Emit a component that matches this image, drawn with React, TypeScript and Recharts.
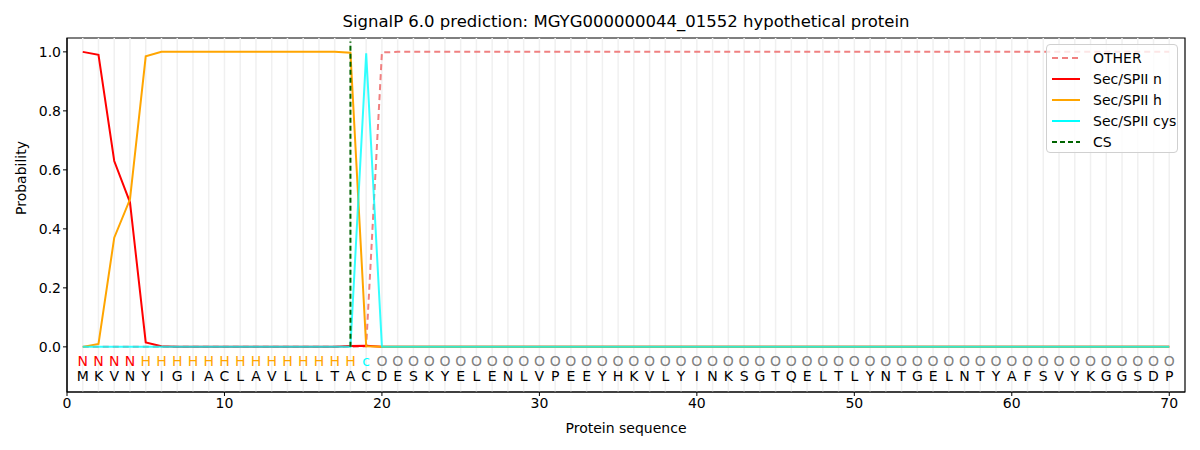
import React from "react";
import {
  ComposedChart,
  Line,
  Scatter,
  XAxis,
  YAxis,
  ReferenceLine,
  ReferenceArea,
} from "recharts";

const sequence = "MKVNYIGIACLAVLLLTACDESKYELENLVPEEYHKVLYINKSGTQELTLYNTGELNTYAFSVYKGGSDP".split("");
const predicted = "NNNNHHHHHHHHHHHHHHcOOOOOOOOOOOOOOOOOOOOOOOOOOOOOOOOOOOOOOOOOOOOOOOOOOO".split("");

const otherProb = [
  0, 0, 0, 0, 0, 0, 0, 0, 0, 0,
  0, 0, 0, 0, 0, 0, 0, 0, 0.002, 0.998,
  1, 1, 1, 1, 1, 1, 1, 1, 1, 1,
  1, 1, 1, 1, 1, 1, 1, 1, 1, 1,
  1, 1, 1, 1, 1, 1, 1, 1, 1, 1,
  1, 1, 1, 1, 1, 1, 1, 1, 1, 1,
  1, 1, 1, 1, 1, 1, 1, 1, 1, 1,
];
const nProb = [
  1.0, 0.99, 0.63, 0.49, 0.015, 0.002, 0, 0, 0, 0,
  0, 0, 0, 0, 0, 0, 0, 0.003, 0.004, 0,
  0, 0, 0, 0, 0, 0, 0, 0, 0, 0,
  0, 0, 0, 0, 0, 0, 0, 0, 0, 0,
  0, 0, 0, 0, 0, 0, 0, 0, 0, 0,
  0, 0, 0, 0, 0, 0, 0, 0, 0, 0,
  0, 0, 0, 0, 0, 0, 0, 0, 0, 0,
];
const hProb = [
  0, 0.01, 0.37, 0.5, 0.985, 1, 1, 1, 1, 1,
  1, 1, 1, 1, 1, 1, 1, 0.997, 0.002, 0,
  0, 0, 0, 0, 0, 0, 0, 0, 0, 0,
  0, 0, 0, 0, 0, 0, 0, 0, 0, 0,
  0, 0, 0, 0, 0, 0, 0, 0, 0, 0,
  0, 0, 0, 0, 0, 0, 0, 0, 0, 0,
  0, 0, 0, 0, 0, 0, 0, 0, 0, 0,
];
const cysProb = [
  0, 0, 0, 0, 0, 0, 0, 0, 0, 0,
  0, 0, 0, 0, 0, 0, 0, 0, 0.995, 0,
  0, 0, 0, 0, 0, 0, 0, 0, 0, 0,
  0, 0, 0, 0, 0, 0, 0, 0, 0, 0,
  0, 0, 0, 0, 0, 0, 0, 0, 0, 0,
  0, 0, 0, 0, 0, 0, 0, 0, 0, 0,
  0, 0, 0, 0, 0, 0, 0, 0, 0, 0,
];
const csPosition = 18;
const xTicks = [0, 10, 20, 30, 40, 50, 60, 70];
const yTicks = [0, 0.2, 0.4, 0.6, 0.8, 1.0];

const labelColors: Record<string, string> = {
  N: "#ff0000",
  H: "#ffa500",
  c: "#00ffff",
  O: "#808080",
};

const series = [
  { key: "other", name: "OTHER", color: "#f08080", dash: "6 4" },
  { key: "n", name: "Sec/SPII n", color: "#ff0000", dash: undefined },
  { key: "h", name: "Sec/SPII h", color: "#ffa500", dash: undefined },
  { key: "cys", name: "Sec/SPII cys", color: "#00ffff", dash: undefined },
  { key: "cs", name: "CS", color: "#006400", dash: "5 3" },
];

const rows = sequence.map((_, i) => ({
  x: i + 1,
  other: otherProb[i],
  n: nProb[i],
  h: hProb[i],
  cys: cysProb[i],
}));

const predRow = predicted.map((p, i) => ({ x: i + 1, y: -0.048, label: p, color: labelColors[p] }));
const seqRow = sequence.map((s, i) => ({ x: i + 1, y: -0.1, label: s, color: "#000" }));

const font = "DejaVu Sans, sans-serif";

function Letter(props: any) {
  const { cx, cy, payload } = props;
  return (
    <text x={cx} y={cy} textAnchor="middle" dominantBaseline="central" fill={payload.color} fontSize={14} fontFamily={font}>
      {payload.label}
    </text>
  );
}

function LegendBox() {
  return (
    <div
      style={{
        position: "absolute",
        left: 1046,
        top: 44,
        width: 132,
        height: 109,
        boxSizing: "border-box",
        border: "1px solid #d0d0d0",
        borderRadius: 4,
        background: "rgba(255,255,255,0.8)",
        padding: "2px 0 0 4px",
        fontFamily: font,
        fontSize: 14,
        whiteSpace: "nowrap",
      }}
    >
      {series.map((s) => (
        <div key={s.key} style={{ display: "flex", alignItems: "center", height: 21 }}>
          <svg width={30} height={10} style={{ marginRight: 12 }}>
            <line x1={1} y1={5} x2={29} y2={5} stroke={s.color} strokeWidth={2} strokeDasharray={s.dash} />
          </svg>
          <span>{s.name}</span>
        </div>
      ))}
    </div>
  );
}

export default function App() {
  return (
    <div style={{ position: "absolute", left: 0, top: 0, width: 1200, height: 450, background: "#fff" }}>
      <div
        style={{
          position: "absolute",
          left: 26,
          width: 1200,
          top: 12,
          textAlign: "center",
          fontFamily: font,
          fontSize: 16.5,
        }}
      >
        SignalP 6.0 prediction: MGYG000000044_01552 hypothetical protein
      </div>
      <ComposedChart width={1200} height={450} data={rows} margin={{ top: 38, right: 15, bottom: 0, left: 0 }}>
        {sequence.map((_, i) => (
          <ReferenceLine key={"g" + i} x={i + 1} stroke="#f0f0f0" strokeWidth={1.5} />
        ))}
        <XAxis
          type="number"
          dataKey="x"
          domain={[0, 71]}
          ticks={xTicks}
          height={58}
          tickSize={4}
          stroke="#000"
          tick={{ fill: "#000", fontSize: 14, fontFamily: font }}
          label={{ value: "Protein sequence", position: "insideBottom", offset: 17, fill: "#000", fontSize: 14, fontFamily: font }}
        />
        <YAxis
          type="number"
          domain={[-0.153, 1.047]}
          ticks={yTicks}
          width={67}
          tickSize={4}
          stroke="#000"
          tickFormatter={(v) => v.toFixed(1)}
          tick={{ fill: "#000", fontSize: 14, fontFamily: font }}
          label={{ value: "Probability", angle: -90, position: "insideLeft", offset: 21, fill: "#000", fontSize: 14, fontFamily: font }}
          allowDataOverflow
        />
        <Line dataKey="other" name="OTHER" stroke="#f08080" strokeWidth={2} strokeDasharray="6 4" dot={false} isAnimationActive={false} />
        <Line dataKey="n" name="Sec/SPII n" stroke="#ff0000" strokeWidth={2} dot={false} isAnimationActive={false} />
        <Line dataKey="h" name="Sec/SPII h" stroke="#ffa500" strokeWidth={2} dot={false} isAnimationActive={false} />
        <Line dataKey="cys" name="Sec/SPII cys" stroke="#00ffff" strokeOpacity={0.8} strokeWidth={2} dot={false} isAnimationActive={false} />
        <ReferenceLine
          segment={[
            { x: csPosition, y: 0 },
            { x: csPosition, y: 1.035 },
          ]}
          stroke="#006400"
          strokeWidth={2}
          strokeDasharray="5 3"
        />
        <Scatter data={predRow} dataKey="y" shape={Letter} isAnimationActive={false} legendType="none" />
        <Scatter data={seqRow} dataKey="y" shape={Letter} isAnimationActive={false} legendType="none" />
        <ReferenceArea x1={0} x2={71} y1={-0.153} y2={1.047} fill="none" stroke="#000" strokeWidth={1.2} ifOverflow="visible" />
      </ComposedChart>
      <LegendBox />
    </div>
  );
}
